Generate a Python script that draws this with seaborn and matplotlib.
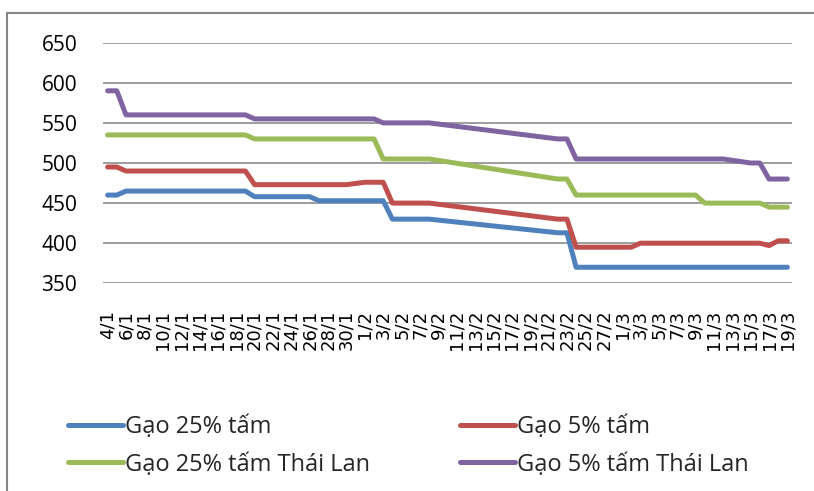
import pandas as pd
import matplotlib
matplotlib.use("Agg")
import matplotlib.pyplot as plt
import seaborn as sns
from matplotlib.patches import Rectangle

# === DATA (gia gao, USD/tan) - diem gay khuc doc tu bieu do ===
year = 2014

g25_dates = ["4/1", "5/1", "6/1", "19/1", "20/1", "26/1", "27/1", "3/2", "4/2", "8/2",
             "22/2", "23/2", "24/2", "19/3"]
g25_vals = [460, 460, 465, 465, 458, 458, 453, 453, 430, 430, 413, 413, 370, 370]

g5_dates = ["4/1", "5/1", "6/1", "19/1", "20/1", "30/1", "1/2", "3/2", "4/2", "8/2",
            "22/2", "23/2", "24/2", "2/3", "3/3", "16/3", "17/3", "18/3", "19/3"]
g5_vals = [495, 495, 490, 490, 473, 473, 476, 476, 450, 450, 430, 430, 395, 395,
           400, 400, 397, 403, 403]

g25_tl_dates = ["4/1", "19/1", "20/1", "2/2", "3/2", "8/2", "22/2", "23/2", "24/2",
                "9/3", "10/3", "16/3", "17/3", "19/3"]
g25_tl_vals = [535, 535, 530, 530, 505, 505, 480, 480, 460, 460, 450, 450, 445, 445]

g5_tl_dates = ["4/1", "5/1", "6/1", "19/1", "20/1", "2/2", "3/2", "8/2", "22/2", "23/2",
               "24/2", "12/3", "15/3", "16/3", "17/3", "19/3"]
g5_tl_vals = [590, 590, 560, 560, 555, 555, 550, 550, 530, 530, 505, 505, 500, 500,
              480, 480]

series_names = ["Gạo 25% tấm", "Gạo 5% tấm", "Gạo 25% tấm Thái Lan", "Gạo 5% tấm Thái Lan"]
colors = ["#4F81BD", "#C0504D", "#9BBB59", "#8064A2"]
y_ticks = [350, 400, 450, 500, 550, 600, 650]


def to_date(s):
    d, m = s.split("/")
    return pd.Timestamp(year=year, month=int(m), day=int(d))


frames = []
for name, ds, vs in zip(series_names,
                        [g25_dates, g5_dates, g25_tl_dates, g5_tl_dates],
                        [g25_vals, g5_vals, g25_tl_vals, g5_tl_vals]):
    frames.append(pd.DataFrame({"date": [to_date(s) for s in ds], "price": vs, "series": name}))
df = pd.concat(frames, ignore_index=True)

# === PLOT ===
sns.set_theme(style="white")
plt.rcParams["font.family"] = ["Open Sans", "DejaVu Sans"]

fig = plt.figure(figsize=(8.14, 4.91), dpi=100)
ax = fig.add_axes([103 / 814, 1 - 283.3 / 491, (792 - 103) / 814, (283.3 - 42.7) / 491])

sns.lineplot(data=df, x="date", y="price", hue="series", hue_order=series_names,
             palette=dict(zip(series_names, colors)), linewidth=3.6, ax=ax,
             estimator=None, solid_capstyle="round", solid_joinstyle="round")

start = to_date(g25_dates[0])
end = to_date(g25_dates[-1])
ax.set_xlim(start - pd.Timedelta(hours=12), end + pd.Timedelta(hours=12))
ax.set_ylim(350, 650)
ax.set_yticks(y_ticks)
ax.set_yticklabels([str(v) for v in y_ticks], fontsize=15)

tick_dates = pd.date_range(start, end, freq="2D")
ax.set_xticks(tick_dates)
ax.set_xticklabels([f"{d.day}/{d.month}" for d in tick_dates], rotation=90,
                   fontsize=13, family="DejaVu Sans", va="top", ha="center")

ax.tick_params(axis="y", length=0, pad=18.5, colors="black")
ax.tick_params(axis="x", length=0, pad=19, colors="black")
ax.grid(axis="y", color="#8c8c8c", linewidth=1.2)
ax.grid(axis="x", visible=False)
for sp in ax.spines.values():
    sp.set_visible(False)
ax.set_xlabel("")
ax.set_ylabel("")

# legend: two columns, filled column-first
handles, labels = ax.get_legend_handles_labels()
lookup = dict(zip(labels, handles))
order = [series_names[0], series_names[2], series_names[1], series_names[3]]
ax.legend([lookup[n] for n in order], order, ncol=2, frameon=False, fontsize=17,
          loc="upper left", bbox_to_anchor=(68 / 814, 1 - 415 / 491),
          bbox_transform=fig.transFigure, handlelength=2.33, handletextpad=0.1,
          columnspacing=3.8, labelspacing=0.58, borderpad=0, borderaxespad=0)

# outer chart border (only left and top visible)
fig.add_artist(Rectangle((7 / 814, -0.2), 1.5, 1.2 - 13 / 491, transform=fig.transFigure,
                         fill=False, edgecolor="#868686", linewidth=1.5))

fig.savefig("out.png", dpi=100)
